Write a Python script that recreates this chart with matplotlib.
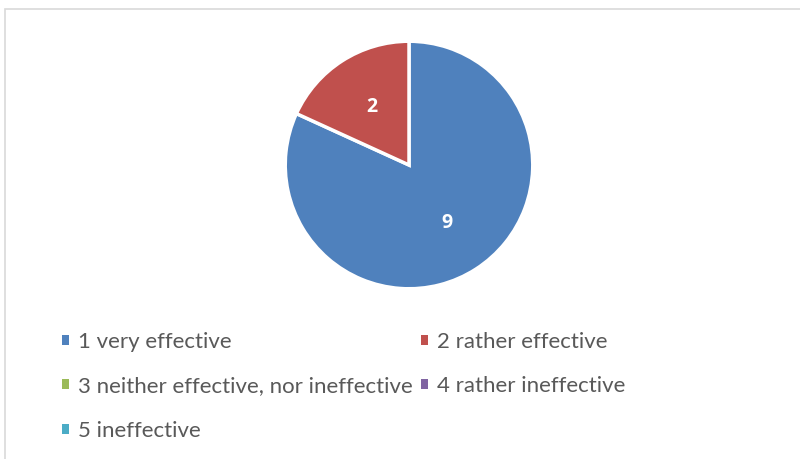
import matplotlib.pyplot as plt
from matplotlib.patches import Patch, Rectangle

# Survey answers (count of respondents)
categories = ['1 very effective', '2 rather effective',
              '3 neither effective, nor ineffective', '4 rather ineffective',
              '5 ineffective']
counts = [9, 2, 0, 0, 0]
colors = ['#4F81BD', '#C0504D', '#9BBB59', '#8064A2', '#4BACC6']

plt.rcParams['font.family'] = ['Lato', 'DejaVu Sans']

fig = plt.figure(figsize=(8, 4.59), dpi=100)

# light frame around the chart area
fig.patches.append(Rectangle((5 / 800, -0.1), 1.0, (459 - 9) / 459 + 0.1,
                             transform=fig.transFigure, fill=False,
                             edgecolor='#D9D9D9', linewidth=1.2))

ax = fig.add_axes([284 / 800, 1 - 290 / 459, 250 / 800, 250 / 459])

vals = [c for c in counts if c > 0]
cols = [col for c, col in zip(counts, colors) if c > 0]
total = sum(vals)
wedges, texts, autotexts = ax.pie(vals, colors=cols, startangle=90, counterclock=False,
                                  radius=1.0,
                                  autopct=lambda p: '%d' % round(p * total / 100),
                                  pctdistance=0.56,
                                  wedgeprops=dict(edgecolor='white', linewidth=2.5))
for t in autotexts:
    t.set_color('white')
    t.set_fontsize(14)
    t.set_fontfamily('Open Sans')
    t.set_fontweight('bold')
ax.set_xlim(-1.01, 1.01)
ax.set_ylim(-1.01, 1.01)
ax.set_aspect('equal')

# legend: two columns, row-wise order like the original
handles = [Patch(facecolor=c, edgecolor='none') for c in colors]
order = [0, 2, 4, 1, 3]
fig.legend([handles[i] for i in order], [categories[i] for i in order],
           ncol=2, loc='upper left', bbox_to_anchor=(44 / 800, 1 - 314 / 459),
           frameon=False, fontsize=16, labelcolor='#595959',
           handlelength=0.34, handleheight=0.34, handletextpad=0.4,
           columnspacing=0.35, labelspacing=1.1, borderpad=0.3)

fig.savefig('out.png', dpi=100)
